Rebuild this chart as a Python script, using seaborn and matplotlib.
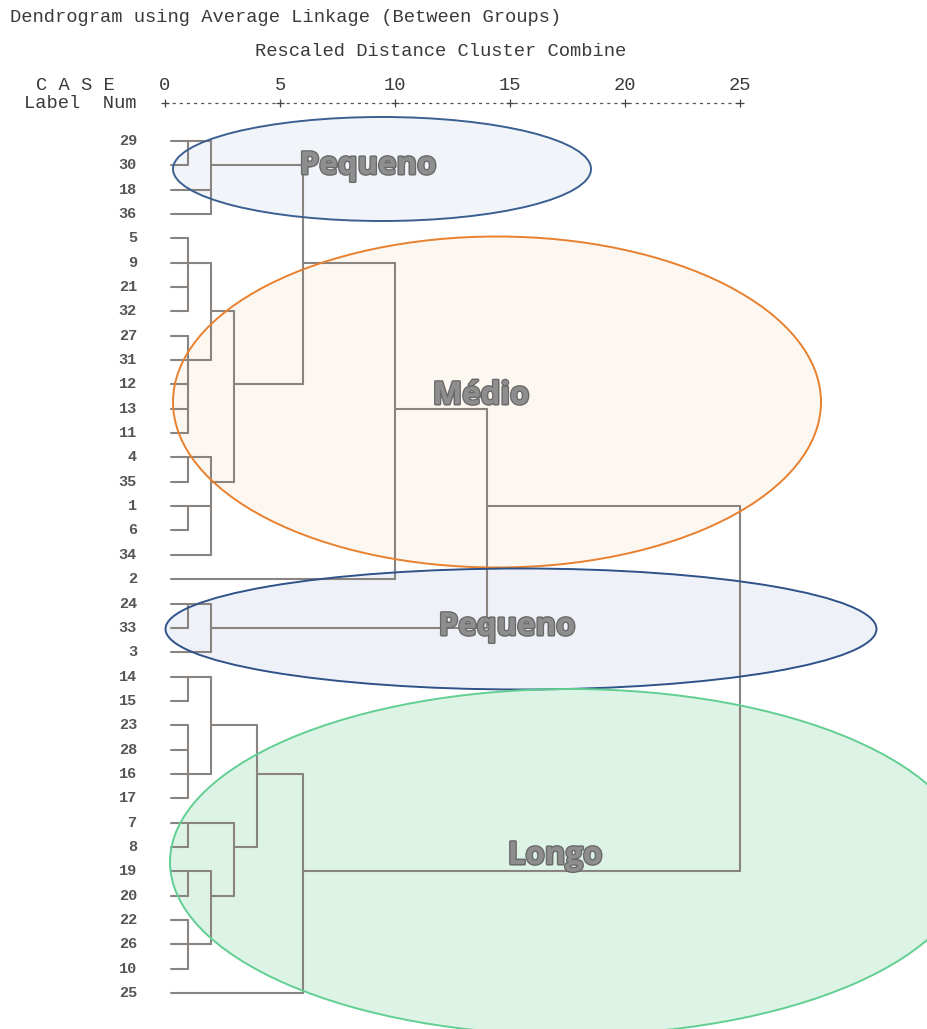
import matplotlib
matplotlib.use("Agg")
import matplotlib.pyplot as plt
import matplotlib.patheffects as pe
from matplotlib.patches import Ellipse
import pandas as pd
import seaborn as sns

# Case labels, top to bottom
case_labels = ["29", "30", "18", "36", "5", "9", "21", "32", "27", "31", "12", "13",
               "11", "4", "35", "1", "6", "34", "2", "24", "33", "3", "14", "15",
               "23", "28", "16", "17", "7", "8", "19", "20", "22", "26", "10", "25"]

# Agglomeration steps: members (int = case row, "mK" = earlier step),
# rescaled distance at which they combine, and the row the joined branch leaves from
merge_children = [
    [0, 1], ["m0", 2, 3], [4, 5, 6, 7], [8, 9, 10, 11, 12], ["m2", "m3"],
    [13, 14], [15, 16], ["m5", "m6", 17], ["m4", "m7"], ["m1", "m8"],
    ["m9", 18], [19, 20], ["m11", 21], ["m10", "m12"], [22, 23],
    [24, 25, 26, 27], ["m14", "m15"], [28, 29], [30, 31], [32, 33, 34],
    ["m18", "m19"], ["m17", "m20"], ["m16", "m21"], ["m22", 35], ["m13", "m23"],
]
merge_height = [1, 2, 1, 1, 2, 1, 1, 2, 3, 6, 10, 1, 2, 14, 1, 1, 2, 1, 1, 1, 2, 3, 4, 6, 25]
merge_row = [0, 1, 5, 9, 7, 13, 15, 14, 10, 5, 11, 19, 20, 15, 22, 26, 24, 28, 30, 33, 31, 29, 26, 30, None]

scale_ticks = [0, 5, 10, 15, 20, 25]

groups = ["Pequeno", "Médio", "Pequeno", "Longo"]

LEAF_X = 0.26

# Build the segment table of the tree
segs = []
def node_pos(ref):
    if isinstance(ref, int):
        return LEAF_X, ref
    k = int(ref[1:])
    return merge_height[k], merge_row[k]

sid = 0
for kids, h in zip(merge_children, merge_height):
    rows = []
    for ref in kids:
        x0, r = node_pos(ref)
        rows.append(r)
        segs.append({"seg": sid, "x": x0, "y": r}); segs.append({"seg": sid, "x": h, "y": r}); sid += 1
    segs.append({"seg": sid, "x": h, "y": min(rows)}); segs.append({"seg": sid, "x": h, "y": max(rows)}); sid += 1
df = pd.DataFrame(segs)

sns.set_theme(style="white")
plt.rcParams["font.family"] = ["Liberation Mono", "DejaVu Sans"]

W, H = 927, 1029
X0, XU = 165.0, 23.0          # pixel of distance 0, pixels per unit
Y0, YU = 141.0, 24.343        # pixel of first row, pixels per row

def dx(p): return (p - X0) / XU
def dy(p): return (p - Y0) / YU

fig = plt.figure(figsize=(W / 100, H / 100), dpi=100)
ax = fig.add_axes([0, 0, 1, 1])

# Group ellipses (pixel centre, size), fills under the tree, outlines above
ell_specs = [
    ((382, 169), 418, 104, "#f1f5fa", "#3b5f91"),
    ((497, 402), 648, 331, "#fdf7f1", "#e8802e"),
    ((521, 629), 711, 121, "#eef2f8", "#2f5289"),
    ((570, 862), 800, 346, "#ddf3e6", "#62cf92"),
]
for (cx, cy), w, h, fc, ec in ell_specs:
    ax.add_patch(Ellipse((dx(cx), dy(cy)), w / XU, h / YU, facecolor=fc,
                         edgecolor="none", zorder=1))
    ax.add_patch(Ellipse((dx(cx), dy(cy)), w / XU, h / YU, facecolor="none",
                         edgecolor=ec, lw=1.4, zorder=4))

sns.lineplot(data=df, x="x", y="y", units="seg", estimator=None, sort=False,
             color="#8a8480", lw=1.5, ax=ax, zorder=3)
ax.set_xlim(dx(0), dx(W))
ax.set_ylim(dy(H), dy(0))
ax.axis("off")

# Case labels
for i, lab in enumerate(case_labels):
    ax.text(dx(137), i, lab, ha="right", va="center", fontsize=11,
            color="#555555", fontweight="bold")

# Header texts
mono = dict(color="#3a3a3a", fontsize=13.5)
ax.text(dx(10), dy(18), "Dendrogram using Average Linkage (Between Groups)",
        ha="left", va="center", **mono)
ax.text(dx(441), dy(51), "Rescaled Distance Cluster Combine", ha="center", va="center", **mono)
ax.text(dx(75), dy(86), "C A S E", ha="center", va="center", **mono)
ax.text(dx(80), dy(103), "Label  Num", ha="center", va="center", **mono)
for t in scale_ticks:
    ax.text(t, dy(86), str(t), ha="center", va="center", **mono)

# Scale rule
ax.plot([0, 25], [dy(103), dy(103)], color="#555555", lw=0.9, ls=(0, (2.5, 3.2)))
ax.scatter(scale_ticks, [dy(103)] * len(scale_ticks), marker="+", s=30,
           color="#444444", lw=0.9, zorder=5)

# Group names
label_pos = [(368, 166), (481, 396), (507, 627), (555, 856)]
for name, (px_, py_) in zip(groups, label_pos):
    ax.text(dx(px_), dy(py_), name, ha="center", va="center", fontsize=22.5,
            fontweight="bold", family=["Open Sans", "DejaVu Sans"], color="#8e8e8e",
            zorder=6,
            path_effects=[pe.withStroke(linewidth=2.2, foreground="#6a6a6a"), pe.Normal()])

fig.savefig("out.png", dpi=100)
